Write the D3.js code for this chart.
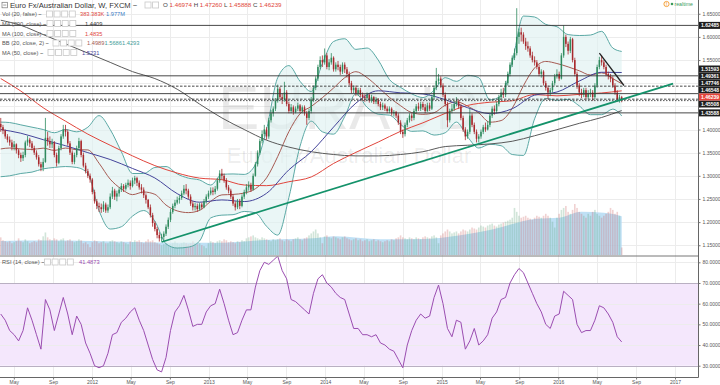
<!DOCTYPE html>
<html><head><meta charset="utf-8">
<script src="https://cdn.jsdelivr.net/npm/d3@7"></script>
<style>
body{margin:0;background:#fff;}
svg{display:block;font-family:"Liberation Sans",Arial,sans-serif;}
.tick text{font-size:5px;fill:#555;}
.tick line{stroke:#777;}
</style></head><body>
<svg id="chart" width="720" height="385"></svg>
<script>
// weekly EUR/AUD candles, first bar = week of 21 Mar 2011
const firstWeek = new Date(2011, 2, 21);
const firstOpen = 1.412;
const closes = [
1.405,1.398,1.385,1.378,1.372,1.362,1.368,1.355,1.345,1.338,
1.345,1.372,1.378,1.37,1.36,1.35,1.34,1.325,1.318,1.33,
1.382,1.375,1.368,1.372,1.345,1.328,1.36,1.385,1.40,1.395,
1.37,1.35,1.33,1.345,1.36,1.375,1.345,1.322,1.31,1.30,
1.292,1.265,1.245,1.235,1.232,1.228,1.238,1.225,1.232,1.255,
1.268,1.255,1.262,1.27,1.278,1.272,1.28,1.285,1.278,1.29,
1.295,1.285,1.275,1.27,1.258,1.248,1.232,1.215,1.198,1.185,
1.172,1.165,1.168,1.175,1.19,1.205,1.222,1.235,1.242,1.248,
1.252,1.262,1.272,1.268,1.255,1.24,1.232,1.235,1.228,1.238,
1.232,1.245,1.255,1.262,1.268,1.265,1.272,1.29,1.305,1.30,
1.29,1.275,1.268,1.255,1.24,1.232,1.245,1.235,1.255,1.265,
1.275,1.28,1.27,1.30,1.325,1.35,1.375,1.39,1.40,1.385,
1.42,1.435,1.445,1.462,1.488,1.47,1.465,1.48,1.455,1.44,
1.448,1.438,1.445,1.452,1.44,1.448,1.435,1.425,1.44,1.465,
1.49,1.51,1.535,1.55,1.545,1.56,1.535,1.545,1.555,1.53,
1.54,1.535,1.525,1.54,1.53,1.52,1.50,1.485,1.49,1.478,
1.485,1.475,1.47,1.468,1.475,1.462,1.47,1.46,1.465,1.455,
1.448,1.452,1.445,1.44,1.445,1.435,1.438,1.43,1.415,1.395,
1.39,1.41,1.42,1.43,1.425,1.44,1.45,1.445,1.455,1.448,
1.44,1.452,1.445,1.47,1.49,1.505,1.51,1.495,1.475,1.455,
1.42,1.44,1.445,1.455,1.46,1.45,1.425,1.40,1.385,1.395,
1.43,1.41,1.395,1.38,1.385,1.395,1.405,1.40,1.41,1.43,
1.445,1.44,1.455,1.47,1.48,1.475,1.50,1.52,1.54,1.555,
1.565,1.60,1.61,1.605,1.59,1.58,1.575,1.56,1.55,1.545,
1.535,1.52,1.525,1.50,1.49,1.48,1.485,1.50,1.515,1.52,
1.51,1.56,1.60,1.585,1.57,1.595,1.55,1.52,1.495,1.48,
1.475,1.485,1.47,1.478,1.48,1.47,1.495,1.535,1.55,1.545,
1.535,1.52,1.515,1.51,1.495,1.48,1.465,1.46974,1.46239];
const highs = [
1.425,1.41,1.40,1.39,1.385,1.378,1.375,1.37,1.358,1.35,
1.352,1.376,1.386,1.382,1.375,1.365,1.355,1.345,1.33,1.338,
1.425,1.395,1.385,1.38,1.375,1.35,1.365,1.39,1.41,1.41,
1.40,1.375,1.355,1.35,1.365,1.382,1.378,1.35,1.328,1.315,
1.305,1.295,1.27,1.25,1.242,1.24,1.245,1.242,1.238,1.262,
1.276,1.272,1.268,1.275,1.284,1.282,1.285,1.292,1.29,1.296,
1.30,1.298,1.29,1.282,1.275,1.262,1.25,1.238,1.22,1.202,
1.19,1.178,1.175,1.18,1.195,1.21,1.228,1.24,1.248,1.255,
1.258,1.268,1.28,1.282,1.272,1.26,1.245,1.242,1.24,1.242,
1.242,1.25,1.26,1.268,1.275,1.275,1.278,1.295,1.312,1.315,
1.305,1.295,1.28,1.272,1.26,1.245,1.25,1.25,1.26,1.27,
1.282,1.288,1.285,1.305,1.33,1.355,1.38,1.398,1.41,1.405,
1.425,1.442,1.45,1.468,1.497,1.492,1.478,1.503,1.485,1.46,
1.455,1.452,1.45,1.458,1.455,1.452,1.452,1.44,1.445,1.47,
1.495,1.515,1.54,1.558,1.56,1.575,1.565,1.552,1.565,1.558,
1.545,1.548,1.54,1.545,1.545,1.535,1.525,1.505,1.495,1.495,
1.49,1.49,1.48,1.476,1.48,1.478,1.475,1.472,1.47,1.468,
1.46,1.458,1.456,1.45,1.45,1.448,1.442,1.44,1.435,1.42,
1.40,1.415,1.425,1.435,1.435,1.445,1.455,1.458,1.46,1.46,
1.455,1.458,1.458,1.475,1.495,1.533,1.52,1.515,1.50,1.48,
1.46,1.445,1.455,1.462,1.47,1.465,1.455,1.43,1.405,1.40,
1.445,1.435,1.415,1.40,1.39,1.40,1.41,1.415,1.418,1.435,
1.45,1.452,1.46,1.475,1.488,1.49,1.505,1.525,1.545,1.56,
1.575,1.662,1.618,1.62,1.61,1.598,1.59,1.58,1.568,1.558,
1.55,1.54,1.53,1.528,1.505,1.495,1.49,1.505,1.52,1.53,
1.525,1.565,1.625,1.605,1.59,1.60,1.598,1.555,1.525,1.50,
1.488,1.49,1.49,1.485,1.488,1.485,1.50,1.54,1.557,1.56,
1.55,1.54,1.525,1.52,1.515,1.50,1.485,1.475,1.4726];
const lows = [
1.395,1.39,1.38,1.372,1.365,1.355,1.355,1.348,1.338,1.33,
1.332,1.34,1.365,1.362,1.355,1.345,1.335,1.32,1.31,1.31,
1.328,1.365,1.36,1.36,1.34,1.32,1.325,1.355,1.38,1.385,
1.365,1.345,1.325,1.325,1.34,1.355,1.34,1.318,1.305,1.295,
1.285,1.26,1.24,1.228,1.222,1.22,1.222,1.22,1.22,1.228,
1.25,1.248,1.245,1.255,1.265,1.265,1.268,1.275,1.27,1.275,
1.282,1.278,1.27,1.262,1.252,1.24,1.228,1.21,1.19,1.18,
1.165,1.158,1.158,1.16,1.17,1.185,1.20,1.218,1.23,1.238,
1.24,1.248,1.258,1.26,1.25,1.235,1.225,1.225,1.222,1.225,
1.228,1.23,1.24,1.25,1.258,1.258,1.26,1.268,1.285,1.292,
1.285,1.27,1.262,1.25,1.235,1.225,1.228,1.228,1.232,1.25,
1.26,1.268,1.265,1.268,1.298,1.32,1.345,1.37,1.385,1.378,
1.38,1.415,1.428,1.44,1.458,1.465,1.455,1.46,1.45,1.435,
1.435,1.432,1.435,1.44,1.435,1.435,1.43,1.41,1.42,1.435,
1.46,1.485,1.505,1.53,1.535,1.54,1.53,1.528,1.54,1.525,
1.525,1.528,1.518,1.52,1.522,1.512,1.495,1.478,1.478,1.472,
1.472,1.47,1.462,1.46,1.462,1.458,1.458,1.455,1.455,1.45,
1.442,1.442,1.44,1.435,1.435,1.43,1.428,1.425,1.41,1.39,
1.382,1.385,1.405,1.415,1.418,1.42,1.435,1.44,1.44,1.442,
1.435,1.438,1.44,1.442,1.465,1.485,1.498,1.49,1.47,1.45,
1.405,1.415,1.435,1.44,1.45,1.445,1.42,1.395,1.377,1.38,
1.39,1.405,1.39,1.372,1.372,1.38,1.39,1.395,1.398,1.405,
1.425,1.432,1.435,1.45,1.465,1.468,1.47,1.495,1.515,1.535,
1.55,1.56,1.585,1.59,1.585,1.572,1.568,1.555,1.545,1.538,
1.53,1.515,1.512,1.495,1.484,1.465,1.472,1.48,1.495,1.51,
1.505,1.508,1.555,1.578,1.562,1.565,1.545,1.515,1.488,1.472,
1.468,1.47,1.465,1.465,1.47,1.462,1.465,1.49,1.53,1.538,
1.53,1.515,1.508,1.502,1.49,1.475,1.46,1.458,1.45888];
// weekly volume, millions
const volumes = [
0.9,0.75,0.7,0.65,0.7,0.6,0.65,0.7,0.85,0.7,0.65,0.8,0.7,0.6,0.65,0.7,0.65,0.8,0.75,0.95,
1.15,0.9,0.8,0.75,0.85,0.8,0.7,0.8,0.85,0.7,0.75,0.8,0.7,0.65,0.7,0.8,0.75,0.6,0.65,0.55,0.4,
0.65,0.75,0.7,0.6,0.65,0.7,0.6,0.6,0.7,0.75,0.7,0.65,0.6,0.7,0.65,0.6,0.55,0.7,0.65,0.75,
0.7,0.75,0.65,0.6,0.7,0.8,0.7,0.75,0.65,0.6,0.55,0.5,0.55,0.6,0.5,0.55,0.6,0.7,0.6,0.55,
0.6,0.65,0.6,0.55,0.6,0.7,0.6,0.55,0.6,0.5,0.45,0.35,
0.6,0.7,0.65,0.6,0.7,0.75,0.7,0.8,0.75,0.65,0.7,0.65,0.6,0.7,0.65,0.75,0.7,0.85,0.9,0.95,
1.0,0.9,0.85,0.8,0.9,0.85,0.8,0.75,0.7,0.8,0.75,0.8,0.85,0.75,0.7,0.8,0.75,0.7,0.8,0.85,
0.9,0.8,0.75,0.85,0.9,1.0,1.1,1.2,1.3,1.1,0.9,0.6,
0.95,1.0,0.9,0.85,0.95,0.9,0.85,0.8,0.9,0.95,0.85,0.8,0.75,0.8,0.85,0.75,0.8,0.7,0.75,0.8,
0.7,0.75,0.8,0.7,0.75,0.7,0.65,0.7,0.75,0.7,0.8,0.75,0.85,0.9,1.0,0.9,0.85,0.8,0.9,0.85,
0.8,0.9,0.85,0.8,0.9,0.95,0.9,0.85,0.95,1.0,0.9,0.6,
1.0,1.1,1.2,1.3,1.2,1.1,1.15,1.2,1.1,1.2,1.3,1.25,1.2,1.3,1.4,1.35,1.3,1.4,1.5,1.45,
1.4,1.5,1.55,1.6,1.5,1.45,1.55,1.6,1.65,1.7,1.75,1.8,1.9,2.4,2.2,2.0,1.9,1.95,2.0,1.9,
1.85,1.8,1.9,2.0,1.95,1.9,2.0,2.1,2.0,1.9,1.7,1.4,
1.9,2.1,2.3,2.4,2.5,2.2,2.1,2.3,2.6,2.4,2.2,2.1,2.0,1.9,2.1,2.0,2.2,2.3,2.1,2.0,
1.9,2.0,2.1,2.2,2.4,2.3,2.1,2.2,2.0,0.383];
const volMaWeeks = [0,20,40,60,80,100,120,140,150,170,190,200,220,240,250,260,270,278];
const volMa = [0.72,0.74,0.72,0.66,0.62,0.63,0.78,0.85,0.95,0.8,0.82,0.92,1.3,1.85,1.9,2.2,2.15,1.977];

// Bollinger (20, 2) read at these bar numbers
const bbWeeks = [0,4,9,14,19,24,29,34,39,44,49,54,59,64,69,74,79,84,89,94,99,104,109,114,119,124,129,134,139,144,149,154,159,164,169,174,179,184,189,194,199,204,209,214,219,224,229,234,239,244,249,254,259,264,269,274,278];
const bbUpper = [1.416,1.415,1.41,1.405,1.40,1.393,1.40,1.395,1.405,1.43,1.40,1.352,1.305,1.305,1.318,1.32,1.304,1.295,1.291,1.28,1.303,1.304,1.303,1.324,1.40,1.512,1.538,1.504,1.482,1.543,1.59,1.596,1.573,1.576,1.55,1.508,1.491,1.477,1.469,1.485,1.512,1.504,1.517,1.512,1.464,1.473,1.546,1.645,1.643,1.627,1.622,1.605,1.603,1.604,1.612,1.576,1.5686];
const bbBasis = [1.358,1.36,1.358,1.357,1.3597,1.3549,1.3599,1.3564,1.3559,1.3272,1.2927,1.2716,1.2593,1.265,1.26,1.2368,1.2242,1.2205,1.2252,1.2448,1.2588,1.2598,1.2627,1.2721,1.2955,1.3416,1.3955,1.4342,1.4498,1.4688,1.4896,1.5119,1.5249,1.512,1.4914,1.4694,1.4514,1.4365,1.4328,1.4362,1.4525,1.4598,1.4506,1.4358,1.4158,1.4193,1.446,1.4945,1.533,1.547,1.5425,1.5353,1.5268,1.5177,1.5224,1.5099,1.4989];
const bbLower = [1.298,1.30,1.305,1.308,1.315,1.318,1.32,1.318,1.305,1.225,1.185,1.19,1.213,1.225,1.202,1.153,1.144,1.146,1.159,1.209,1.215,1.216,1.223,1.22,1.191,1.172,1.253,1.364,1.418,1.395,1.39,1.428,1.477,1.448,1.433,1.431,1.411,1.396,1.397,1.388,1.393,1.416,1.384,1.36,1.368,1.365,1.346,1.344,1.423,1.467,1.463,1.465,1.451,1.432,1.432,1.444,1.4293];

// moving averages read at these bar numbers
const maWeeks = [0,9,19,29,39,49,59,69,79,89,99,109,119,129,139,149,159,169,179,189,199,209,219,229,239,249,259,269,278];
const ma50 = [1.40,1.392,1.378,1.365,1.35,1.3352,1.3158,1.2953,1.2615,1.243,1.2479,1.2444,1.2622,1.3129,1.352,1.4052,1.4569,1.4836,1.4792,1.4768,1.4644,1.4471,1.4342,1.4449,1.4742,1.4809,1.5047,1.5236,1.5231];
const ma100 = [1.51,1.483,1.447,1.418,1.39,1.366,1.343,1.322,1.306,1.295,1.2916,1.2801,1.2787,1.2872,1.2975,1.3266,1.3506,1.3729,1.3961,1.4144,1.4348,1.452,1.4589,1.4621,1.4755,1.4727,1.4759,1.4789,1.4835];
const ma200 = [1.636,1.625,1.605,1.585,1.565,1.545,1.525,1.51,1.487,1.455,1.425,1.40,1.377,1.362,1.352,1.346,1.343,1.343,1.346,1.352,1.3632,1.366,1.3688,1.3746,1.3865,1.3996,1.4133,1.4259,1.4409];

// RSI(14) read every second bar
const rsi = [55,52,47,45,42,47,58,52,45,38,62,57,47,55,63,55,45,54,50,41,
36,30,29,30,36,45,46,51,53,56,58,52,47,40,33,28,27,34,47,56,
59,64,57,49,50,50,56,59,60,67,60,52,45,46,52,57,57,68,76,80,
79,81,83,76,72,62,61,59,57,55,65,72,74,70,68,65,63,62,55,48,
48,45,45,44,45,41,40,38,37,33,29,40,47,52,55,53,54,63,69,60,
48,44,52,51,38,42,48,40,42,45,53,56,62,63,70,74,77,75,70,65,
60,56,50,48,54,55,66,64,62,50,46,47,47,52,59,58,55,51,44,41.4873];

const priceTicks = [1.15,1.20,1.25,1.30,1.35,1.40,1.45,1.50,1.55,1.60,1.65];
const rsiTicks = [30,40,50,60,70,80];
const levelPrices = [1.62485,1.51593,1.49361,1.47746,1.46548,1.43588];
const dashedLevels = [1.49361,1.46548];
const extraLabels = [1.45508];
const greenTrend = [[new Date(2012,7,6),1.157],[new Date(2016,11,26),1.499]];
const blackTrend = [[new Date(2016,4,9),1.565],[new Date(2016,6,25),1.495]];
const last = {o:1.46974,h:1.47260,l:1.45888,c:1.46239};

const svg = d3.select("#chart");
const axisX = 698.5;
const weekDate = i => d3.timeDay.offset(firstWeek, 7 * i);

const xRef = d3.scaleTime().domain([new Date(2012,0,1), new Date(2017,0,1)]).range([92, 675]);
const x = d3.scaleTime().domain([xRef.invert(0), xRef.invert(axisX)]).range([0, axisX]);
const y = d3.scaleLinear().domain([1.12894, 1.6797]).range([255, 0]);
const yVol = d3.scaleLinear().domain([0, 13]).range([255, 0]);
const yRsi = d3.scaleLinear().domain([24.54, 83.05]).range([377, 256]);

const candles = closes.map((c, i) => {
  const o = i === 0 ? firstOpen : closes[i - 1];
  return {date: weekDate(i), o, c, h: Math.max(highs[i], o, c), l: Math.min(lows[i], o, c), v: volumes[i]};
});

const defs = svg.append("defs");
defs.append("clipPath").attr("id", "clipMain").append("rect").attr("x", 0).attr("y", 0).attr("width", axisX).attr("height", 255.5);
defs.append("clipPath").attr("id", "clipRsi").append("rect").attr("x", 0).attr("y", 256.5).attr("width", axisX).attr("height", 121);

const timeTicks = x.ticks(d3.timeMonth.every(4));

// grid
const grid = svg.append("g").attr("stroke", "#ececec").attr("stroke-width", 1);
grid.selectAll(".vg").data(timeTicks).join("line")
  .attr("x1", d => Math.round(x(d)) + 0.5).attr("x2", d => Math.round(x(d)) + 0.5)
  .attr("y1", 0).attr("y2", 377);
grid.selectAll(".hg").data(priceTicks).join("line")
  .attr("x1", 0).attr("x2", axisX).attr("y1", d => Math.round(y(d)) + 0.5).attr("y2", d => Math.round(y(d)) + 0.5);

// RSI band
const rsiPane = svg.append("g").attr("clip-path", "url(#clipRsi)");
rsiPane.append("rect").attr("x", 0).attr("width", axisX).attr("y", yRsi(70)).attr("height", yRsi(30) - yRsi(70)).attr("fill", "#f4e7fc");
rsiPane.selectAll(".rg").data(rsiTicks).join("line")
  .attr("x1", 0).attr("x2", axisX).attr("y1", d => Math.round(yRsi(d)) + 0.5).attr("y2", d => Math.round(yRsi(d)) + 0.5)
  .attr("stroke", d => (d === 70 || d === 30) ? "#b9b0c2" : "#ececec");
rsiPane.append("path")
  .datum(rsi.map((v, k) => [weekDate(2 * k), v]))
  .attr("fill", "none").attr("stroke", "#9a4db0").attr("stroke-width", 1)
  .attr("d", d3.line().x(d => x(d[0])).y(d => yRsi(d[1])));

// watermark
svg.append("text").attr("x", 349).attr("y", 129).attr("text-anchor", "middle")
  .attr("font-size", 62).attr("fill", "#000").attr("fill-opacity", 0.085).text("EURAUD");
svg.append("text").attr("x", 349).attr("y", 162.5).attr("text-anchor", "middle")
  .attr("font-size", 22).attr("fill", "#000").attr("fill-opacity", 0.085).text("Euro Fx/Australian Dollar");

const main = svg.append("g").attr("clip-path", "url(#clipMain)");

// volume
main.append("path")
  .datum(volMaWeeks.map((w, k) => [weekDate(w), volMa[k]]))
  .attr("fill", "#b4daf3").attr("fill-opacity", 0.85)
  .attr("d", d3.area().curve(d3.curveMonotoneX).x(d => x(d[0])).y0(yVol(0)).y1(d => yVol(d[1])));
main.selectAll(".vol").data(candles).join("rect")
  .attr("x", d => x(d.date) - 0.8).attr("width", 1.6)
  .attr("y", d => yVol(d.v)).attr("height", d => yVol(0) - yVol(d.v))
  .attr("fill", d => d.c >= d.o ? "rgba(90,160,120,0.28)" : "rgba(200,90,90,0.28)");

// Bollinger bands
const bbPts = bbWeeks.map((w, k) => ({date: weekDate(w), u: bbUpper[k], m: bbBasis[k], l: bbLower[k]}));
main.append("path").datum(bbPts).attr("fill", "#dff1f1").attr("fill-opacity", 0.65)
  .attr("d", d3.area().curve(d3.curveMonotoneX).x(d => x(d.date)).y0(d => y(d.l)).y1(d => y(d.u)));
const bbLine = key => d3.line().curve(d3.curveMonotoneX).x(d => x(d.date)).y(d => y(d[key]));
main.append("path").datum(bbPts).attr("fill", "none").attr("stroke", "#5aa8a4").attr("d", bbLine("u"));
main.append("path").datum(bbPts).attr("fill", "none").attr("stroke", "#5aa8a4").attr("d", bbLine("l"));
main.append("path").datum(bbPts).attr("fill", "none").attr("stroke", "#a55a52").attr("d", bbLine("m"));

// moving averages
[[ma200, "#5a5a5a"], [ma100, "#e0453c"], [ma50, "#44449a"]].forEach(([vals, col]) => {
  main.append("path").datum(maWeeks.map((w, k) => [weekDate(w), vals[k]]))
    .attr("fill", "none").attr("stroke", col).attr("stroke-width", 1)
    .attr("d", d3.line().curve(d3.curveMonotoneX).x(d => x(d[0])).y(d => y(d[1])));
});

// candles
const upCol = "#2f8a5e", downCol = "#a8282c";
const cg = main.append("g");
cg.selectAll(".wick").data(candles).join("line")
  .attr("x1", d => x(d.date)).attr("x2", d => x(d.date))
  .attr("y1", d => y(d.h)).attr("y2", d => y(d.l))
  .attr("stroke", d => d.c >= d.o ? upCol : downCol).attr("stroke-width", 0.8);
cg.selectAll(".body").data(candles).join("rect")
  .attr("x", d => x(d.date) - 0.75).attr("width", 1.5)
  .attr("y", d => y(Math.max(d.o, d.c)))
  .attr("height", d => Math.max(0.6, Math.abs(y(d.o) - y(d.c))))
  .attr("fill", d => d.c >= d.o ? upCol : downCol);

// horizontal levels
main.selectAll(".lvl").data(levelPrices).join("line")
  .attr("x1", 0).attr("x2", axisX).attr("y1", d => y(d)).attr("y2", d => y(d))
  .attr("stroke", "#333").attr("stroke-width", 0.9)
  .attr("stroke-dasharray", d => dashedLevels.includes(d) ? "2.5,1.5" : null);
main.append("line").attr("x1", 0).attr("x2", axisX).attr("y1", y(last.c)).attr("y2", y(last.c))
  .attr("stroke", "#444").attr("stroke-width", 0.9).attr("stroke-dasharray", "1.5,1.5");

// trend lines
const tl = d3.line().x(d => x(d[0])).y(d => y(d[1]));
main.append("path").datum(greenTrend).attr("stroke", "#14926a").attr("stroke-width", 1.8).attr("fill", "none").attr("d", tl);
main.append("path").datum(blackTrend).attr("stroke", "#222").attr("stroke-width", 1.3).attr("fill", "none").attr("d", tl);

// pane separators and axis frame
svg.append("line").attr("x1", 0).attr("x2", axisX).attr("y1", 256).attr("y2", 256).attr("stroke", "#777");
svg.append("line").attr("x1", 0).attr("x2", axisX).attr("y1", 377.5).attr("y2", 377.5).attr("stroke", "#666");
svg.append("line").attr("x1", axisX).attr("x2", axisX).attr("y1", 0).attr("y2", 377.5).attr("stroke", "#666");

// price labels on the scale, stacked upward
const labels = levelPrices.map(p => ({p, col: "#1e1e1e"}))
  .concat(extraLabels.map(p => ({p, col: "#1e1e1e"})))
  .concat([{p: last.c, col: "#e5443a"}])
  .sort((a, b) => a.p - b.p);
let prev = Infinity;
labels.forEach(d => { d.pos = Math.min(y(d.p), prev - 7); prev = d.pos; });

// axes (tick labels hidden where a price label sits on top)
const yAxis = svg.append("g").attr("transform", `translate(${axisX},0)`)
  .call(d3.axisRight(y).tickValues(priceTicks).tickFormat(d3.format(".5f")).tickSize(2).tickSizeOuter(0).tickPadding(2));
yAxis.select(".domain").remove();
yAxis.selectAll(".tick").filter(t => labels.some(l => Math.abs(l.pos - y(t)) < 6.5)).select("text").remove();
const rAxis = svg.append("g").attr("transform", `translate(${axisX},0)`)
  .call(d3.axisRight(yRsi).tickValues(rsiTicks).tickFormat(d3.format(".4f")).tickSize(2).tickSizeOuter(0).tickPadding(2));
rAxis.select(".domain").remove();
const xAxis = svg.append("g").attr("transform", "translate(0,377.5)")
  .call(d3.axisBottom(x).tickValues(timeTicks)
    .tickFormat(d => d.getMonth() === 0 ? d3.timeFormat("%Y")(d) : d3.timeFormat("%b")(d))
    .tickSize(2).tickSizeOuter(0).tickPadding(1));
xAxis.select(".domain").remove();

const lg = svg.append("g");
labels.filter(d => d.col !== "#e5443a").concat(labels.filter(d => d.col === "#e5443a")).forEach(d => {
  lg.append("rect").attr("x", axisX + 0.5).attr("y", d.pos - 3.5).attr("width", 22).attr("height", 7).attr("fill", d.col);
  lg.append("text").attr("x", axisX + 2.5).attr("y", d.pos + 1.8).attr("font-size", 5).attr("font-weight", "bold")
    .attr("fill", "#fff").text(d3.format(".5f")(d.p));
});

// legend
const leg = svg.append("g").attr("fill", "#444");
function boxes(x0, yc, n) {
  for (let k = 0; k < n; k++) {
    leg.append("rect").attr("x", x0 + k * 7.6).attr("y", yc - 3).attr("width", 6).attr("height", 6)
      .attr("fill", "#fff").attr("stroke", "#c8c8c8").attr("stroke-width", 0.8);
  }
}
leg.append("rect").attr("x", 2).attr("y", 2.3).attr("width", 5.5).attr("height", 5.5).attr("fill", "none").attr("stroke", "#777").attr("stroke-width", 0.7);
leg.append("line").attr("x1", 3.2).attr("x2", 6.3).attr("y1", 5.05).attr("y2", 5.05).attr("stroke", "#777").attr("stroke-width", 0.7);
leg.append("text").attr("x", 10).attr("y", 7.8).attr("font-size", 7.6).attr("fill", "#333").text("Euro Fx/Australian Dollar, W, FXCM ~");
boxes(145, 5, 2);
const ohlc = leg.append("text").attr("x", 163).attr("y", 7.4).attr("font-size", 6.2);
[["O", last.o], ["H", last.h], ["L", last.l], ["C", last.c]].forEach(([k, v], n) => {
  ohlc.append("tspan").attr("fill", "#444").text((n ? " " : "") + k + " ");
  ohlc.append("tspan").attr("fill", "#e0463a").text(d3.format(".5f")(v));
});
const legendRows = [
  {t: "Vol (20, false) ~", yc: 14, bx: 46.5, vals: [["383.383K", "#e0463a", 80], ["1.977M", "#3b7dc4", 106]]},
  {t: "MA (200, close) ~", yc: 23.5, bx: 47, vals: [[d3.format(".4f")(ma200[ma200.length - 1]), "#333", 85]]},
  {t: "MA (100, close) ~", yc: 33.5, bx: 47, vals: [[d3.format(".4f")(ma100[ma100.length - 1]), "#e0453c", 85]]},
  {t: "BB (20, close, 2) ~", yc: 43, bx: 53, vals: [[d3.format(".4f")(bbBasis[bbBasis.length - 1]), "#a55a52", 87],
    [d3.format(".4f")(bbUpper[bbUpper.length - 1]), "#3f9c98", 104.5], [d3.format(".4f")(bbLower[bbLower.length - 1]), "#3f9c98", 122]]},
  {t: "MA (50, close) ~", yc: 52.5, bx: 48, vals: [[d3.format(".4f")(ma50[ma50.length - 1]), "#44449a", 82]]},
  {t: "RSI (14, close) ~", yc: 262, bx: 44.5, vals: [[d3.format(".4f")(rsi[rsi.length - 1]), "#9a4db0", 79]]}
];
legendRows.forEach(r => {
  leg.append("text").attr("x", 2).attr("y", r.yc + 2).attr("font-size", 5.7).attr("fill", "#555").text(r.t);
  boxes(r.bx, r.yc, 4);
  r.vals.forEach(([s, c, vx]) => leg.append("text").attr("x", vx).attr("y", r.yc + 2).attr("font-size", 5.7).attr("fill", c).text(s));
});

// realtime badge
svg.append("circle").attr("cx", 666.5).attr("cy", 4).attr("r", 2.6).attr("fill", "none").attr("stroke", "#f39a2b").attr("stroke-width", 0.9);
svg.append("text").attr("x", 666.5).attr("y", 5.7).attr("text-anchor", "middle").attr("font-size", 4.5).attr("font-weight", "bold").attr("fill", "#f39a2b").text("!");
svg.append("circle").attr("cx", 672).attr("cy", 4).attr("r", 1.3).attr("fill", "#3a9a5a");
svg.append("text").attr("x", 674.5).attr("y", 5.8).attr("font-size", 5.2).attr("fill", "#3a9a5a").text("realtime");
</script></body></html>
